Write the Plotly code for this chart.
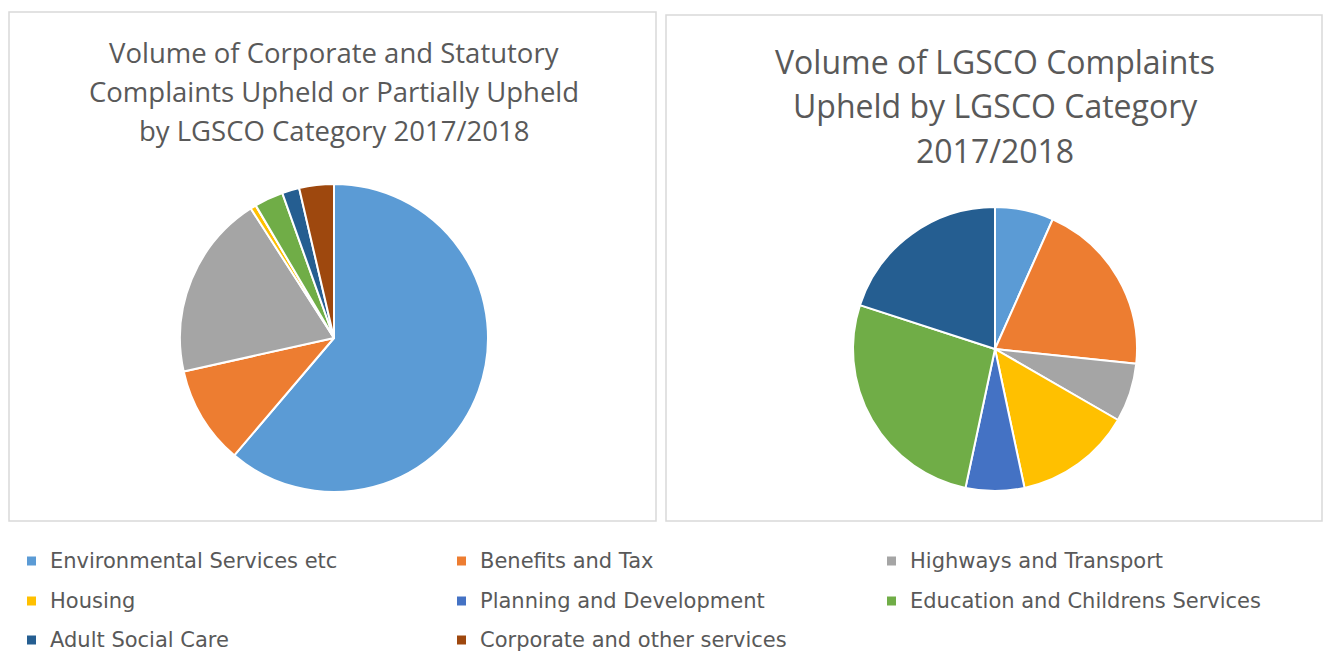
import plotly.graph_objects as go

W, H = 1325, 653

categories = ["Environmental Services etc", "Benefits and Tax", "Highways and Transport",
              "Housing", "Planning and Development", "Education and Childrens Services",
              "Adult Social Care", "Corporate and other services"]
colors = ["#5B9BD5", "#ED7D31", "#A5A5A5", "#FFC000", "#4472C4", "#70AD47", "#255E91", "#9E480E"]

left_values = [101, 17, 32, 1, 0, 5, 3, 6]
right_values = [1, 3, 1, 2, 1, 4, 3, 0]

left_title = ["Volume of Corporate and Statutory", "Complaints Upheld or Partially Upheld",
              "by LGSCO Category 2017/2018"]
right_title = ["Volume of LGSCO Complaints", "Upheld by LGSCO Category", "2017/2018"]

FONT = "Open Sans"
LEG_FONT = "DejaVu Sans"
TXT = "#595959"


def px(x):
    return x / W


def py(y):
    return 1 - y / H


fig = go.Figure()
common = dict(labels=categories, marker=dict(colors=colors, line=dict(color="white", width=2)),
              sort=False, direction="clockwise", rotation=0, textinfo="none",
              hoverinfo="label+value+percent", showlegend=False)
fig.add_trace(go.Pie(values=left_values,
                     domain=dict(x=[px(180), px(488)], y=[py(492), py(184)]), **common))
fig.add_trace(go.Pie(values=right_values,
                     domain=dict(x=[px(852), px(1138)], y=[py(491), py(207)]), **common))

shapes = [
    dict(type="rect", xref="paper", yref="paper", x0=px(9), x1=px(656), y0=py(521), y1=py(12),
         line=dict(color="#D9D9D9", width=1.5), fillcolor="rgba(0,0,0,0)"),
    dict(type="rect", xref="paper", yref="paper", x0=px(666), x1=px(1322), y0=py(521), y1=py(15),
         line=dict(color="#D9D9D9", width=1.5), fillcolor="rgba(0,0,0,0)"),
]
annotations = []
for i, line in enumerate(left_title):
    annotations.append(dict(text=line, x=px(334), y=py(53 + 38.5 * i), xref="paper", yref="paper",
                            showarrow=False, xanchor="center", yanchor="middle",
                            font=dict(family=FONT, size=27.5, color=TXT)))
for i, line in enumerate(right_title):
    annotations.append(dict(text=line, x=px(995), y=py(61 + 44.5 * i), xref="paper", yref="paper",
                            showarrow=False, xanchor="center", yanchor="middle",
                            font=dict(family=FONT, size=32, color=TXT)))

# legend (3 columns)
col_x = [27, 457, 887]
row_y = [561, 601, 640]
for i, (cat, c) in enumerate(zip(categories, colors)):
    r, k = divmod(i, 3)
    x0, yc = col_x[k], row_y[r]
    shapes.append(dict(type="rect", xref="paper", yref="paper", x0=px(x0), x1=px(x0 + 9),
                       y0=py(yc + 4.5), y1=py(yc - 4.5), line=dict(width=0), fillcolor=c))
    annotations.append(dict(text=cat, x=px(x0 + 21), y=py(yc), xref="paper", yref="paper",
                            showarrow=False, xanchor="left", yanchor="middle",
                            font=dict(family=LEG_FONT, size=21, color=TXT)))

fig.update_layout(width=W, height=H, margin=dict(l=0, r=0, t=0, b=0),
                  paper_bgcolor="white", plot_bgcolor="white",
                  shapes=shapes, annotations=annotations)
fig.write_html("out.html", config={"displayModeBar": False},
               post_script="document.body.style.margin='0px';")
